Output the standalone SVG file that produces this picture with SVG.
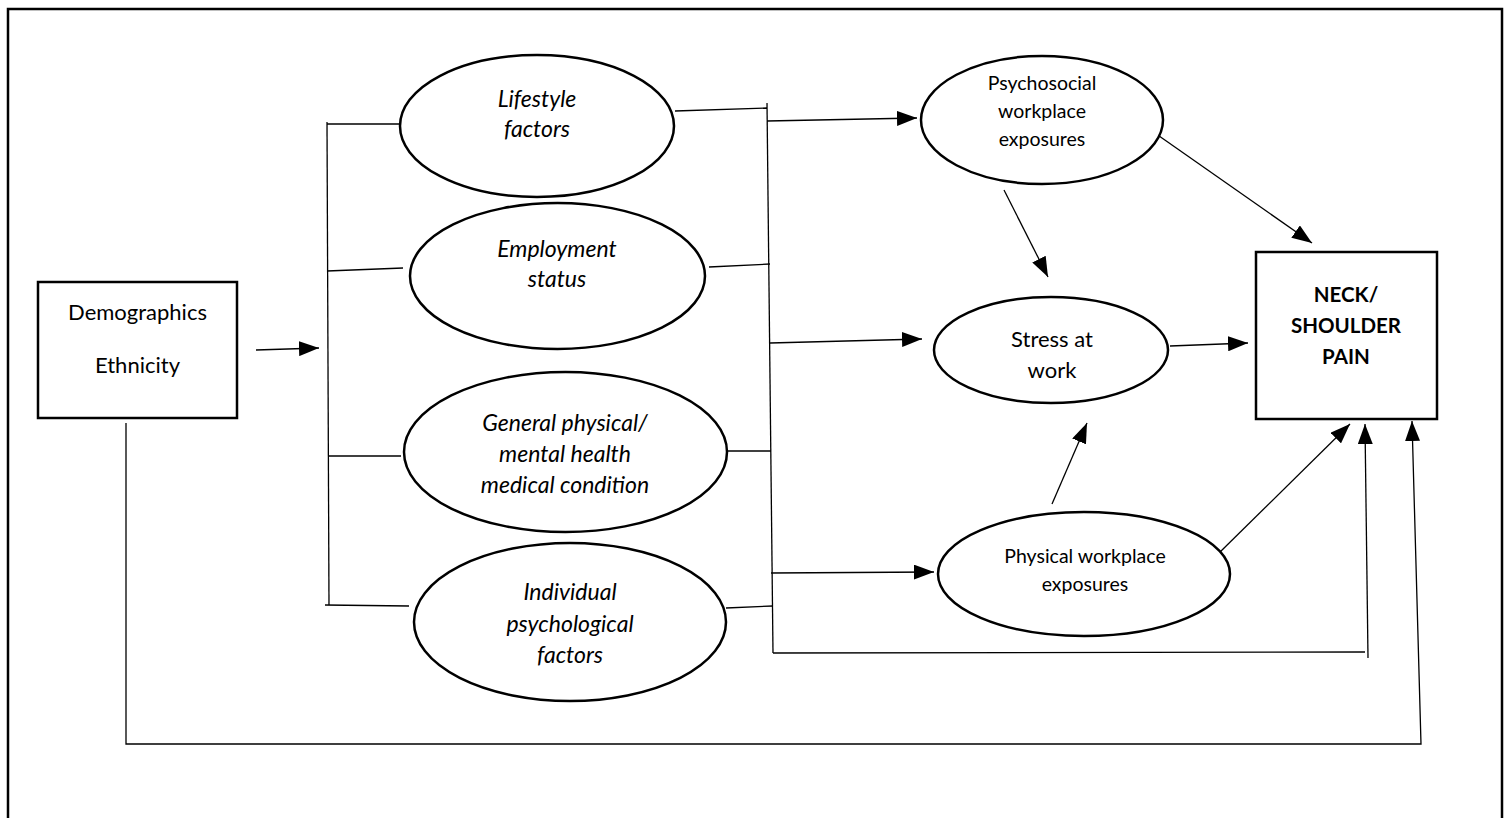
<svg xmlns="http://www.w3.org/2000/svg" width="1505" height="818" viewBox="0 0 1505 818">
<style>
.frame{fill:none;stroke:#000;stroke-width:2.5}
.box{fill:#fff;stroke:#000;stroke-width:2.5}
.ell{fill:#fff;stroke:#000;stroke-width:2.5}
.c{fill:none;stroke:#000;stroke-width:1.3}
.t{font-family:Lato,"Open Sans","Liberation Sans",sans-serif;font-size:22px;fill:#000;text-anchor:middle}
.i{font-style:italic;font-size:23px}
.s{font-size:19.5px}
.b{font-weight:bold;font-size:20.5px}
</style>
<defs>
<marker id="ah" markerUnits="userSpaceOnUse" markerWidth="20" markerHeight="15" refX="20" refY="7.5" orient="auto">
<path d="M0,0 L20,7.5 L0,15 z" fill="#000"/>
</marker>
</defs>
<rect x="0" y="0" width="1505" height="818" fill="#fff"/>
<rect class="frame" x="8" y="9" width="1494" height="830"/>

<g id="connectors">
<line class="c" x1="256" y1="350" x2="319" y2="348" marker-end="url(#ah)"/>
<line class="c" x1="327" y1="122" x2="329" y2="605"/>
<line class="c" x1="327" y1="124" x2="400" y2="124"/>
<line class="c" x1="327" y1="271" x2="403" y2="268"/>
<line class="c" x1="328" y1="456" x2="401" y2="456"/>
<line class="c" x1="325" y1="605" x2="409" y2="606"/>
<line class="c" x1="675" y1="111" x2="767" y2="108"/>
<line class="c" x1="709" y1="267" x2="770" y2="264"/>
<line class="c" x1="722" y1="451" x2="771" y2="451"/>
<line class="c" x1="726" y1="608" x2="773" y2="606"/>
<line class="c" x1="767" y1="103" x2="773" y2="653"/>
<line class="c" x1="767" y1="121" x2="917" y2="118" marker-end="url(#ah)"/>
<line class="c" x1="770" y1="343" x2="922" y2="339" marker-end="url(#ah)"/>
<line class="c" x1="771" y1="573" x2="934" y2="572" marker-end="url(#ah)"/>
<line class="c" x1="773" y1="653" x2="1365" y2="652"/>
<line class="c" x1="1368" y1="658" x2="1365" y2="424" marker-end="url(#ah)"/>
<line class="c" x1="1004" y1="190" x2="1048" y2="277" marker-end="url(#ah)"/>
<line class="c" x1="1152" y1="131" x2="1312" y2="243" marker-end="url(#ah)"/>
<line class="c" x1="1170" y1="346" x2="1248" y2="343" marker-end="url(#ah)"/>
<line class="c" x1="1052" y1="504" x2="1087" y2="423" marker-end="url(#ah)"/>
<line class="c" x1="1217" y1="555" x2="1350" y2="424" marker-end="url(#ah)"/>
<polyline class="c" points="126,423 126,744 1421,744 1412,421" marker-end="url(#ah)"/>
</g>

<g id="demographics">
<rect class="box" x="38" y="282" width="199" height="136"/>
<text class="t" x="137.5" y="320">Demographics</text>
<text class="t" x="137.5" y="373">Ethnicity</text>
</g>

<g id="lifestyle">
<ellipse class="ell" cx="537" cy="126" rx="137" ry="71"/>
<text class="t i" x="537" y="107">Lifestyle</text>
<text class="t i" x="537" y="137">factors</text>
</g>

<g id="employment">
<ellipse class="ell" cx="557.5" cy="276" rx="147.5" ry="73"/>
<text class="t i" x="557" y="257">Employment</text>
<text class="t i" x="557" y="287">status</text>
</g>

<g id="general">
<ellipse class="ell" cx="565.5" cy="452" rx="161.5" ry="80"/>
<text class="t i" x="565" y="431">General physical/</text>
<text class="t i" x="565" y="462">mental health</text>
<text class="t i" x="565" y="493">medical condition</text>
</g>

<g id="individual">
<ellipse class="ell" cx="570" cy="622" rx="156" ry="79"/>
<text class="t i" x="570" y="600">Individual</text>
<text class="t i" x="570" y="632">psychological</text>
<text class="t i" x="570" y="663">factors</text>
</g>

<g id="psychosocial">
<ellipse class="ell" cx="1042" cy="120" rx="121" ry="64"/>
<text class="t s" x="1042" y="90">Psychosocial</text>
<text class="t s" x="1042" y="118">workplace</text>
<text class="t s" x="1042" y="146">exposures</text>
</g>

<g id="stress">
<ellipse class="ell" cx="1051" cy="350" rx="117" ry="53"/>
<text class="t" x="1052" y="347">Stress at</text>
<text class="t" x="1052" y="378">work</text>
</g>

<g id="physical">
<ellipse class="ell" cx="1084" cy="574" rx="146" ry="62"/>
<text class="t s" x="1085" y="563">Physical workplace</text>
<text class="t s" x="1085" y="591">exposures</text>
</g>

<g id="neck">
<rect class="box" x="1256" y="252" width="181" height="167"/>
<text class="t b" x="1346" y="302">NECK/</text>
<text class="t b" x="1346" y="333">SHOULDER</text>
<text class="t b" x="1346" y="364">PAIN</text>
</g>
</svg>
